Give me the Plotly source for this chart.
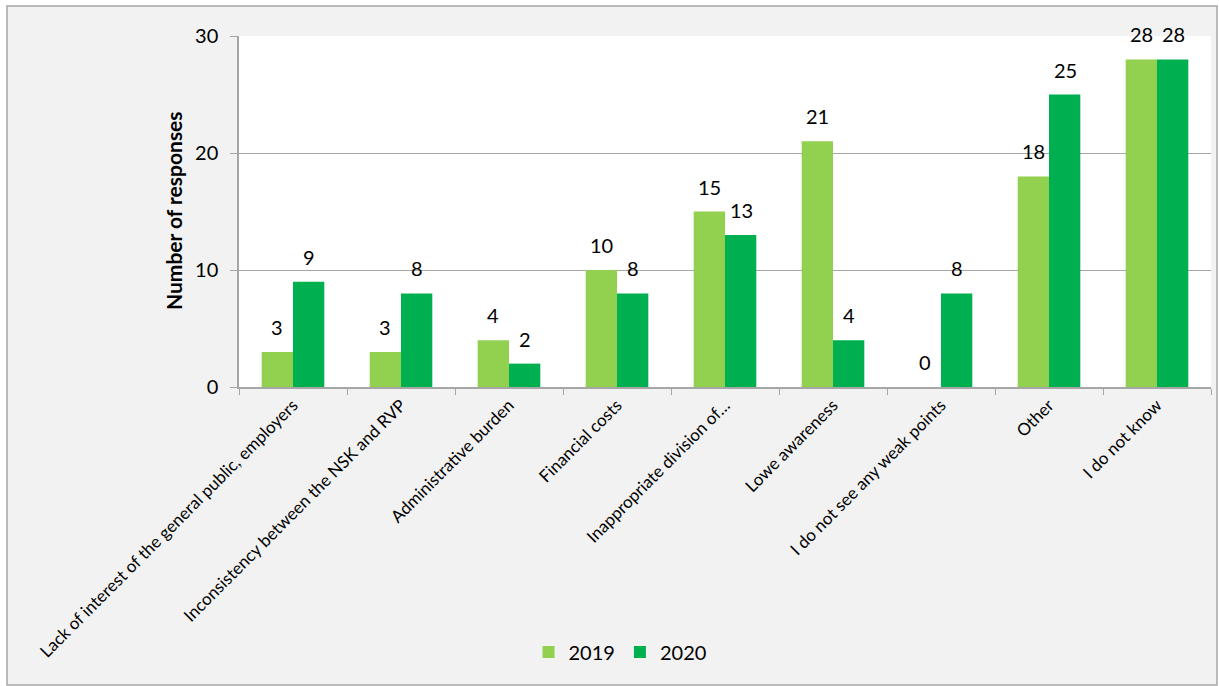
import plotly.graph_objects as go

categories = [
    "Lack of interest of the general public, employers",
    "Inconsistency between the NSK and RVP",
    "Administrative burden",
    "Financial costs",
    "Inappropriate division of…",
    "Lowe awareness",
    "I do not see any weak points",
    "Other",
    "I do not know",
]
values_2019 = [3, 3, 4, 10, 15, 21, 0, 18, 28]
values_2020 = [9, 8, 2, 8, 13, 4, 8, 25, 28]
series_names = ["2019", "2020"]
colors = ["#92D050", "#00B050"]

FONT = "Lato, 'Open Sans', sans-serif"

fig = go.Figure()
for name, vals, col in zip(series_names, [values_2019, values_2020], colors):
    fig.add_trace(go.Bar(x=categories, y=vals, name=name, marker=dict(color=col, line=dict(width=0))))

# data labels
annotations = []
for offs, vals in zip([-16, 16], [values_2019, values_2020]):
    for c, v in zip(categories, vals):
        annotations.append(dict(x=c, y=v, xref="x", yref="y", text=str(v), showarrow=False,
                                xshift=offs, yshift=11, yanchor="bottom",
                                font=dict(size=20, color="#000", family=FONT)))
annotations.append(dict(x=-0.068, y=0.504, xref="paper", yref="paper", text="<b>Number of responses</b>",
                        textangle=-90, showarrow=False, font=dict(size=21, color="#000", family=FONT),
                        xanchor="center", yanchor="middle"))

W, H = 972, 351
def px_x(p):
    return (p - 239) / W
def px_y(p):
    return (387 - p) / H

shapes = [
    dict(type="rect", xref="paper", yref="paper", x0=px_x(7), x1=px_x(1217), y0=px_y(685), y1=px_y(6),
         fillcolor="#F2F2F2", line=dict(color="#A6A6A6", width=1.5), layer="below"),
    dict(type="rect", xref="paper", yref="paper", x0=0, x1=1, y0=0, y1=1,
         fillcolor="#FFFFFF", line=dict(width=0), layer="below"),
]

fig.update_layout(
    width=1219, height=686,
    margin=dict(l=239, r=8, t=36, b=299),
    paper_bgcolor="#FFFFFF", plot_bgcolor="rgba(0,0,0,0)",
    barmode="group", bargap=0.42, bargroupgap=0,
    font=dict(family=FONT, color="#000"),
    annotations=annotations, shapes=shapes,
    legend=dict(orientation="h", x=0.392, y=px_y(652), xanchor="center", yanchor="middle",
                font=dict(size=20, family=FONT), bgcolor="rgba(0,0,0,0)", itemwidth=30, tracegroupgap=0),
    showlegend=True,
)
fig.update_yaxes(range=[0, 30], dtick=10, showgrid=True, gridcolor="#A6A6A6", gridwidth=1,
                 showline=True, linecolor="#A6A6A6", linewidth=1.5, ticks="outside", ticklen=7,
                 tickcolor="#A6A6A6", tickfont=dict(size=20, family=FONT), ticklabelstandoff=8,
                 zeroline=False, fixedrange=True)
fig.update_xaxes(showline=True, linecolor="#A6A6A6", linewidth=1.5, ticks="outside", ticklen=6,
                 tickcolor="#A6A6A6", tickson="boundaries", tickangle=-45,
                 tickfont=dict(size=17, family=FONT), showgrid=False)

fig.write_html("out.html")
